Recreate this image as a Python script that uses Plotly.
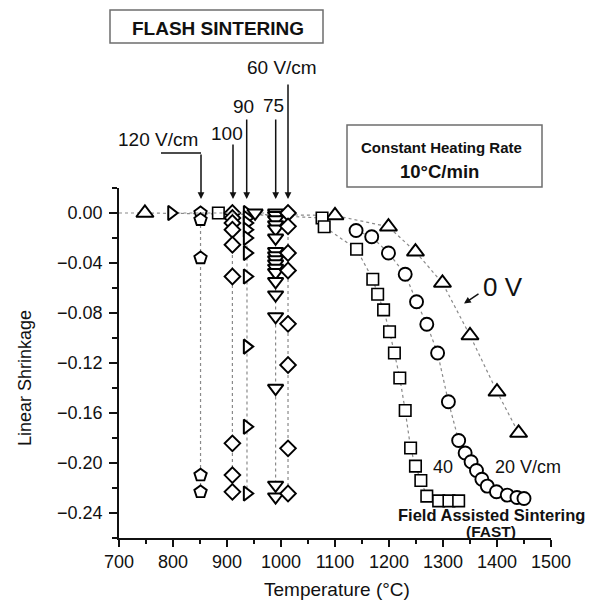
import plotly.graph_objects as go

# ---------------- data ----------------
# dotted baseline from the axis to the first 0 V point
T_BASE = [700, 748]
S_BASE = [0.0, 0.0]

# 0 V/cm (conventional sintering)
T_0V = [748, 1100, 1199, 1249, 1299, 1350, 1400, 1440]
S_0V = [0.0, -0.002, -0.011, -0.031, -0.056, -0.098, -0.143, -0.176]

# 20 V/cm (FAST)
T_20 = [1139, 1168, 1199, 1230, 1251, 1270, 1290, 1310, 1329, 1341, 1352, 1362,
        1372, 1382, 1399, 1419, 1437, 1450]
S_20 = [-0.014, -0.019, -0.032, -0.049, -0.071, -0.089, -0.112, -0.151, -0.182,
        -0.192, -0.199, -0.206, -0.213, -0.2185, -0.223, -0.2257, -0.2276, -0.2284]

# 40 V/cm (FAST)
T_40 = [884, 1076, 1080, 1140, 1170, 1179, 1190, 1201, 1210, 1220, 1230, 1240,
        1249, 1259, 1270, 1292, 1311, 1329]
S_40 = [0.0, -0.004, -0.011, -0.029, -0.053, -0.065, -0.0775, -0.095, -0.112,
        -0.132, -0.158, -0.188, -0.2025, -0.214, -0.2265, -0.2303, -0.2303, -0.2303]

# 60 V/cm (flash)
T_60 = [1013] * 8
S_60 = [0.0, -0.0107, -0.032, -0.046, -0.0887, -0.1216, -0.1883, -0.2244]

# 75 V/cm (flash)
T_75 = [952] + [990] * 18
S_75 = [0.0, 0.0, -0.002, -0.0054, -0.0094, -0.0128, -0.020, -0.0308, -0.0342,
        -0.0374, -0.0406, -0.0441, -0.0476, -0.0548, -0.0655, -0.0829, -0.1402,
        -0.2177, -0.2271]

# 90 V/cm (flash)
T_90 = [797] + [937] * 10
S_90 = [0.0, 0.0, -0.004, -0.008, -0.0134, -0.020, -0.032, -0.0508, -0.1069,
        -0.171, -0.2244]

# 100 V/cm (flash)
T_100 = [910] * 9
S_100 = [0.0, -0.004, -0.008, -0.0134, -0.0254, -0.0508, -0.1843, -0.2097, -0.2231]

# 120 V/cm (flash)
T_120 = [851] * 5
S_120 = [0.0, -0.0054, -0.036, -0.2097, -0.2231]

X_TICK0, X_DTICK = 700, 100
Y_TICK0, Y_DTICK = 0.0, 0.04

# ---------------- figure ----------------
L, R, TOP, BOT = 119, 551, 188, 538  # plot area in pixels
W, H = 597, 604


def px(x):
    return (x - L) / (R - L)


def py(y):
    return (BOT - y) / (BOT - TOP)


LINE = dict(color="#8a8a8a", width=1.2, dash="dot")
MK = "#000000"


def series(T, S, symbol, size, lw=1.9):
    return go.Scatter(
        x=T, y=S, mode="lines+markers",
        line=LINE,
        marker=dict(symbol=symbol, size=size, color="white",
                    line=dict(color=MK, width=lw)),
        cliponaxis=False,
    )


fig = go.Figure()
fig.add_trace(go.Scatter(x=T_BASE, y=S_BASE, mode="lines", line=LINE))
fig.add_trace(series(T_0V, S_0V, "triangle-up", 15, lw=2.0))
fig.add_trace(series(T_40, S_40, "square", 11.5, lw=1.6))
fig.add_trace(series(T_20, S_20, "circle", 13))
fig.add_trace(series(T_120, S_120, "pentagon", 13))
fig.add_trace(series(T_100, S_100, "diamond", 12))
fig.add_trace(series(T_90, S_90, "triangle-right", 12.5, lw=2.0))
fig.add_trace(series(T_75, S_75, "triangle-down", 13.5, lw=2.0))
fig.add_trace(series(T_60, S_60, "diamond", 12))

AX = "#111111"
fig.update_xaxes(
    range=[700, 1500], showline=True, linecolor=AX, linewidth=1.6,
    ticks="outside", ticklen=7, tickwidth=1.6, tickcolor=AX,
    tick0=X_TICK0, dtick=X_DTICK,
    minor=dict(ticks="outside", ticklen=4, tickwidth=1.6, tickcolor=AX, dtick=50, tick0=700),
    showgrid=False, zeroline=False, tickfont=dict(size=18, color=AX),
)
fig.update_yaxes(
    range=[-0.26, 0.02], showline=True, linecolor=AX, linewidth=1.6,
    ticks="outside", ticklen=8, tickwidth=1.6, tickcolor=AX,
    tick0=Y_TICK0, dtick=Y_DTICK, tickformat=".2f",
    minor=dict(ticks="outside", ticklen=5, tickwidth=1.6, tickcolor=AX, dtick=0.02, tick0=0),
    showgrid=False, zeroline=False, tickfont=dict(size=18, color=AX),
    ticklabelstandoff=3,
)

FONT = "Liberation Sans, Arial, sans-serif"
ann = []


def text(x, y, s, size, bold=False, angle=0, xanchor="center"):
    ann.append(dict(xref="paper", yref="paper", x=px(x), y=py(y),
                    text=("<b>" + s + "</b>") if bold else s,
                    showarrow=False, textangle=angle, xanchor=xanchor, yanchor="middle",
                    font=dict(size=size, family=FONT, color="#111")))


def arrow(x, ytip, ytail, xtail=None):
    xt = x if xtail is None else xtail
    ann.append(dict(xref="paper", yref="paper", x=px(x), y=py(ytip), text="",
                    showarrow=True, axref="pixel", ayref="pixel",
                    ax=xt - x, ay=ytail - ytip, arrowhead=2, arrowsize=0.9,
                    arrowwidth=1.5, arrowcolor="#111", standoff=0))


# axis titles
text(337, 589, "Temperature (°C)", 19)
text(25, 378, "Linear Shrinkage", 18, angle=-90)

# flash sintering labels
text(218, 28, "FLASH SINTERING", 19, bold=True)
text(282, 67.5, "60 V/cm", 19)
text(243.5, 106, "90", 19)
text(273, 105, "75", 19)
text(227, 133.5, "100", 19)
text(158, 139.5, "120 V/cm", 19)
arrow(288, 199, 83)
arrow(275.7, 199, 118)
arrow(246.7, 199, 118)
arrow(233, 199, 143)
arrow(201, 199, 153)

# heating-rate box
text(441, 147.5, "Constant Heating Rate", 15, bold=True)
text(439.5, 171, "10°C/min", 18.5, bold=True)

# 0 V and FAST labels
text(503, 287, "0 V", 26)
arrow(464, 303.5, 293, 480)
text(442.5, 467, "40", 18)
text(493, 467, "20 V/cm", 18, xanchor="left")
text(491, 515, "Field Assisted Sintering", 16.5, bold=True)
text(491, 531, "(FAST)", 15.5, bold=True)

shapes = [
    dict(type="rect", xref="paper", yref="paper", x0=px(110), x1=px(323), y0=py(43), y1=py(10),
         line=dict(color="#6e6e6e", width=1.5)),
    dict(type="rect", xref="paper", yref="paper", x0=px(347), x1=px(542), y0=py(187), y1=py(125),
         line=dict(color="#6e6e6e", width=1.5)),
    dict(type="line", xref="paper", yref="paper", x0=px(161), x1=px(201), y0=py(153), y1=py(153),
         line=dict(color="#111", width=1.5)),
]

fig.update_layout(
    width=W, height=H, margin=dict(l=L, r=W - R, t=TOP, b=H - BOT),
    plot_bgcolor="white", paper_bgcolor="white", showlegend=False,
    font=dict(family=FONT, color="#111"),
    annotations=ann, shapes=shapes,
)

fig.write_html("out.html")
